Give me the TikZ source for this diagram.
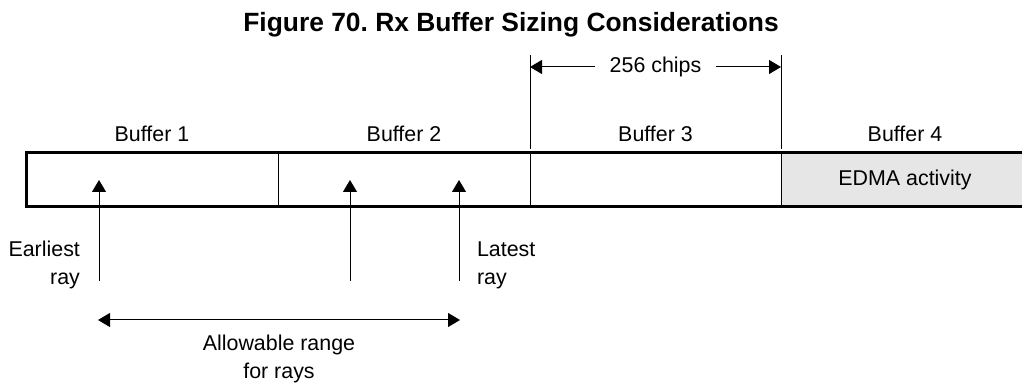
\documentclass[tikz,border=0pt]{standalone}
\usepackage{fontspec}
\setmainfont{Liberation Sans}
\usetikzlibrary{positioning,arrows.meta}
\definecolor{edmagray}{RGB}{230,230,230}
\frenchspacing

\begin{document}
\begin{tikzpicture}[x=0.5pt,y=-0.5pt,>={Triangle[length=6pt,width=7pt]},every node/.style={font=\fontsize{10.7}{14}\selectfont},
  buf/.style={draw,line width=0.5pt,minimum width=126pt,minimum height=27pt,inner sep=0pt,outer sep=0pt},
  thinline/.style={line width=0.5pt}]
\useasboundingbox (0,0) rectangle (1022,384);
\node[font=\fontsize{13.2}{16}\selectfont\bfseries] (title) at (511,25) {Figure 70. Rx Buffer Sizing Considerations};
\node[buf,anchor=north west] (b1) at (26,153) {};
\node[buf,right=0pt of b1] (b2) {};
\node[buf,right=0pt of b2,minimum width=125.5pt] (b3) {};
\node[buf,right=0pt of b3,fill=edmagray,minimum width=124pt] (b4) {EDMA activity};
\draw[line width=1.5pt] (b4.north east) -- (b1.north west) -- (b1.south west) -- (b4.south east);
\node[above=2pt of b1] (lab1) {Buffer 1};
\node[above=2pt of b2] (lab2) {Buffer 2};
\node[above=2pt of b3] (lab3) {Buffer 3};
\node[above=2pt of b4] (lab4) {Buffer 4};
% 256 chips dimension
\coordinate (dl) at ([yshift=49pt]b3.north west);
\coordinate (dr) at ([yshift=49pt]b3.north east);
\draw[thinline] (dl) -- ([yshift=2pt]b3.north west);
\draw[thinline] (dr) -- ([yshift=2pt]b3.north east);
\node[inner xsep=7pt] (chips) at ([yshift=43pt]b3.north) {256 chips};
\draw[->,thinline] (chips.west) -- (chips.west -| dl);
\draw[->,thinline] (chips.east) -- (chips.east -| dr);
% ray arrows
\coordinate (tip1) at (99,180);
\coordinate (tip2) at (350,180);
\coordinate (tip3) at (459,180);
\coordinate (base1) at (99,281);
\coordinate (base2) at (350,281);
\coordinate (base3) at (459,281);
\draw[->,thinline] (base1) -- (tip1);
\draw[->,thinline] (base2) -- (tip2);
\draw[->,thinline] (base3) -- (tip3);
\node[align=right,anchor=east] (early) at (87,265) {Earliest\\ray};
\node[align=left,anchor=west] (late) at (470,265) {Latest\\ray};
\coordinate (rangeL) at (98,320);
\coordinate (rangeR) at (460,320);
\draw[<->,thinline] (rangeL) -- (rangeR);
\node[align=center] (range) at (279,359) {Allowable range\\for rays};
\end{tikzpicture}
\end{document}
